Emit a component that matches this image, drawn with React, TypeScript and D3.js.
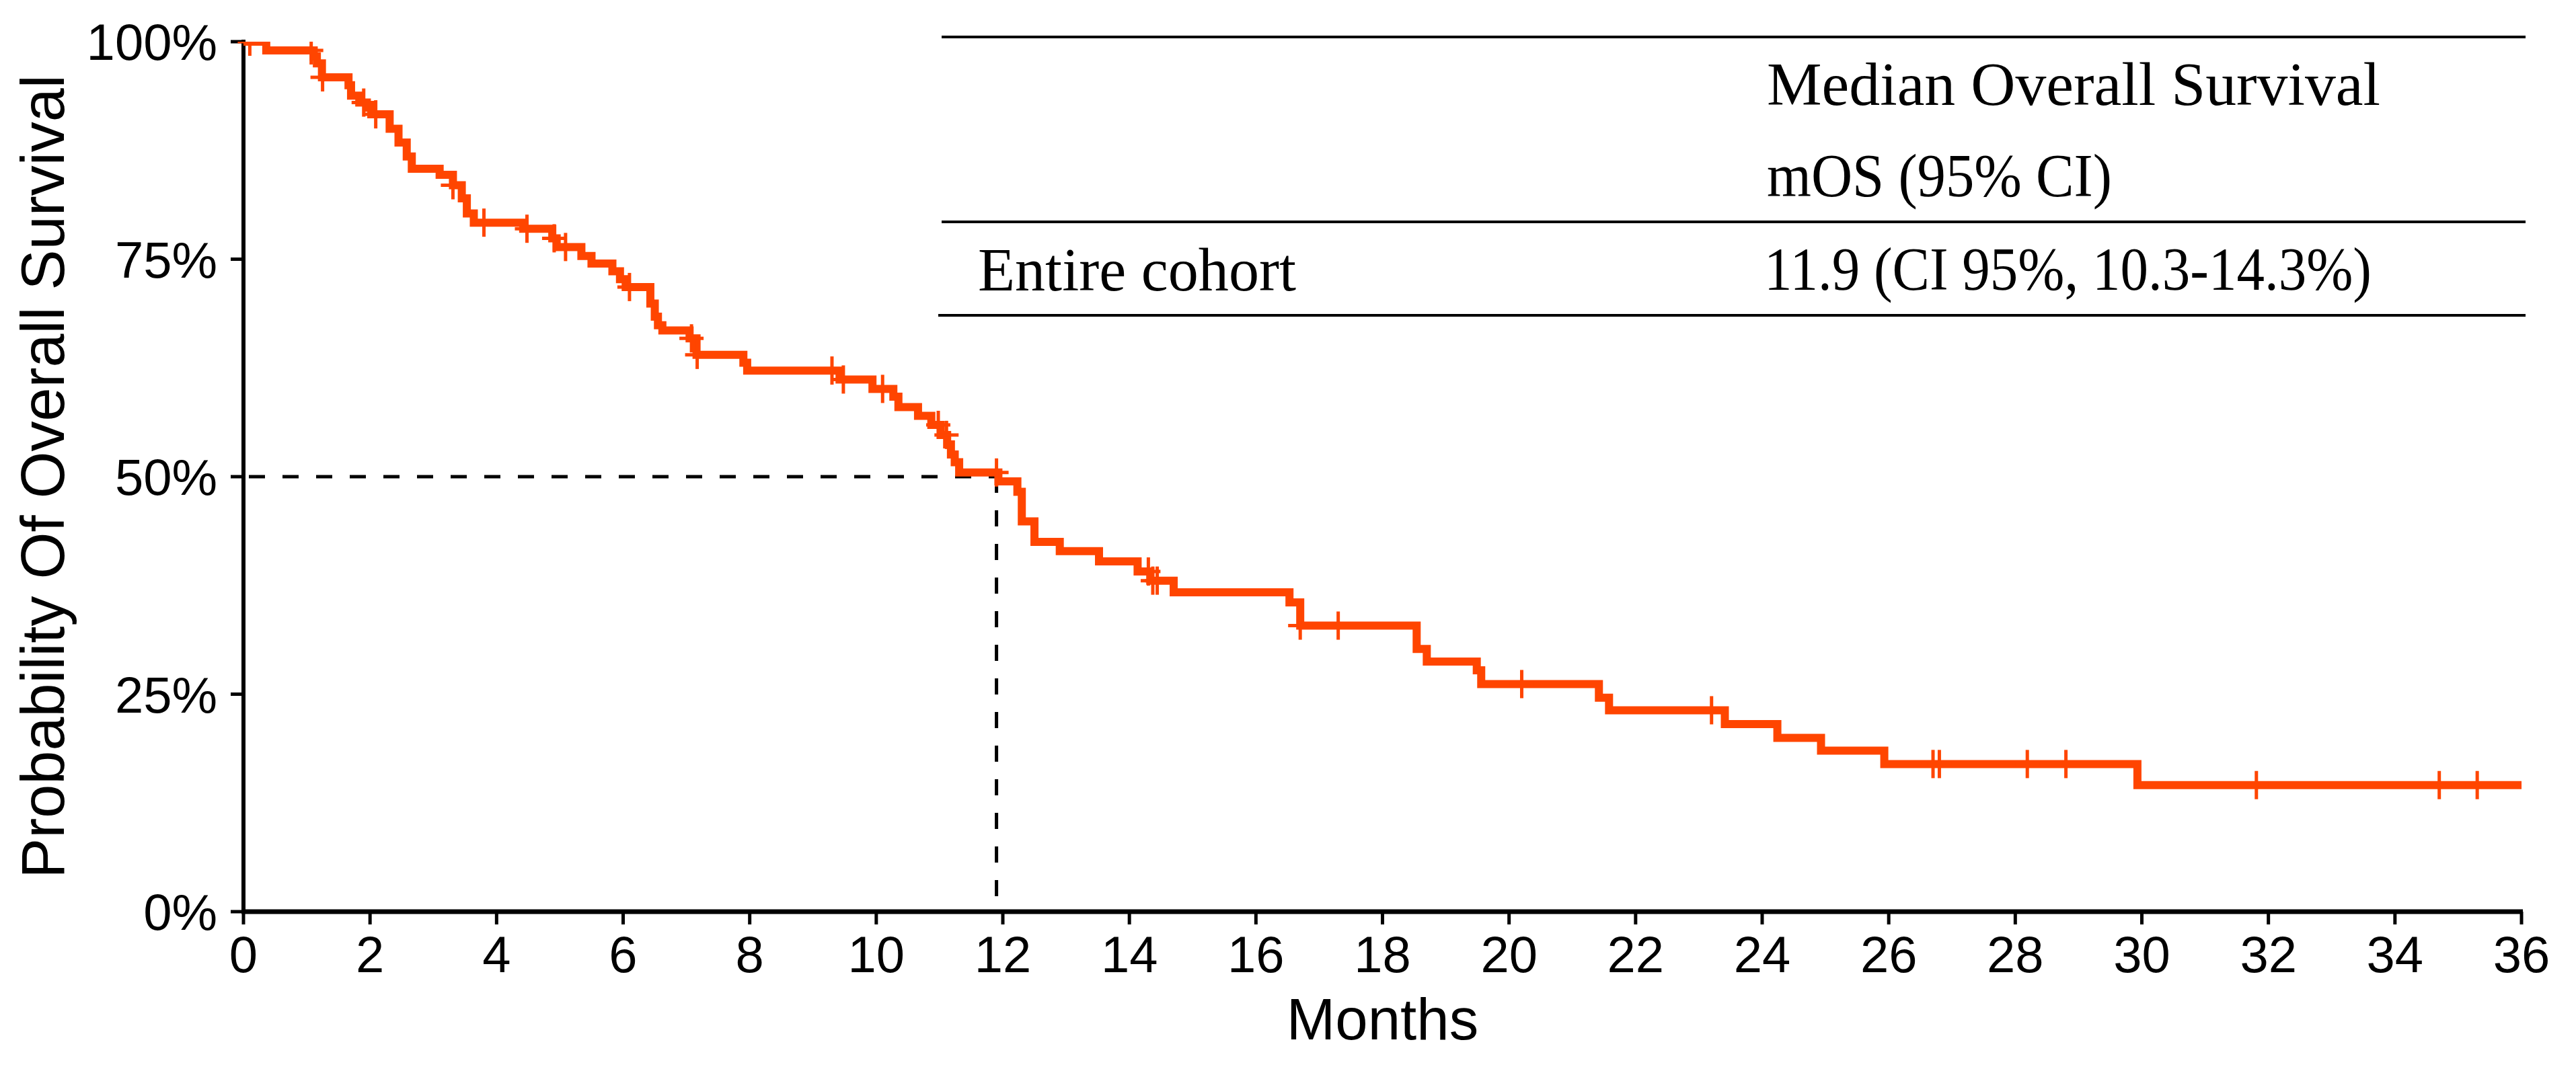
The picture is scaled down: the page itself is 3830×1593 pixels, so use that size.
import * as d3 from "d3";

// Kaplan-Meier steps: time (months) where the curve drops, survival after it
const stepTimes = [
  0, 0.36, 1.11, 1.16, 1.24, 1.66, 1.7, 1.83, 1.95, 2.02, 2.31, 2.45, 2.58, 2.66, 3.1, 3.31, 3.45, 3.53,
  3.64, 4.42, 4.88, 4.95, 5.34, 5.5, 5.83, 5.95, 6.04, 6.43, 6.5, 6.55, 6.62, 7.05, 7.16, 7.9, 7.96,
  9.42, 9.94, 10.27, 10.35, 10.66, 10.87, 11.02, 11.12, 11.18, 11.24, 11.31, 11.93, 12.23, 12.3, 12.5,
  12.9, 13.52, 14.13, 14.33, 14.7, 16.53, 16.7, 18.54, 18.7, 19.49, 19.56, 21.42, 21.58, 23.41, 24.24,
  24.93, 25.93, 29.93,
];
const stepSurv = [
  1, 0.99, 0.983, 0.975, 0.959, 0.95, 0.938, 0.93, 0.924, 0.9165, 0.9, 0.884, 0.868, 0.854, 0.847, 0.835,
  0.82, 0.8025, 0.792, 0.785, 0.774, 0.764, 0.7537, 0.745, 0.736, 0.727, 0.718, 0.699, 0.684, 0.674,
  0.668, 0.659, 0.64, 0.631, 0.622, 0.6117, 0.6009, 0.592, 0.58, 0.57, 0.5595, 0.548, 0.537, 0.5255,
  0.5166, 0.5048, 0.4946, 0.4826, 0.4486, 0.425, 0.4145, 0.4026, 0.391, 0.3805, 0.367, 0.3555, 0.3288,
  0.302, 0.2875, 0.2775, 0.2616, 0.246, 0.2315, 0.2156, 0.1998, 0.185, 0.1697, 0.1455,
];
const censorTimes = [
  0.1, 1.07, 1.25, 1.9, 2.09, 3.31, 3.8, 4.48, 4.91, 5.09, 6.1, 7.08, 7.17, 9.3, 9.48, 10.1, 10.98,
  11.11, 11.9, 14.3, 14.37, 14.44, 16.7, 17.3, 20.2, 23.2, 26.7, 26.8, 28.19, 28.8, 31.81, 34.7, 35.3,
];
const followUpEnd = 36;
const medianMonths = 11.9;

const xTickValues = [0, 2, 4, 6, 8, 10, 12, 14, 16, 18, 20, 22, 24, 26, 28, 30, 32, 34, 36];
const yTickValues = [0, 0.25, 0.5, 0.75, 1];
const yTickLabels = ["0%", "25%", "50%", "75%", "100%"];
const xLabel = "Months";
const yLabel = "Probability Of Overall Survival";
const tableHeader = ["Median Overall Survival", "mOS (95% CI)"];
const tableRow = ["Entire cohort", "11.9 (CI 95%, 10.3-14.3%)"];

const W = 3830;
const H = 1593;
const left = 362;
const right = 3749;
const top = 62;
const bottom = 1356;
const orange = "#ff4500";
const sans = "'Liberation Sans', Arial, sans-serif";
const serif = "'Liberation Serif', 'Times New Roman', serif";

export default function App() {
  const x = d3.scaleLinear().domain([0, 36]).range([left, right]);
  const y = d3.scaleLinear().domain([0, 1]).range([bottom, top]);

  const pts: [number, number][] = stepTimes.map((t, i) => [t, stepSurv[i]]);
  pts.push([followUpEnd, stepSurv[stepSurv.length - 1]]);
  const line = d3
    .line<[number, number]>()
    .x((d) => x(d[0]))
    .y((d) => y(d[1]))
    .curve(d3.curveStepAfter);

  const survAt = (t: number) => {
    const i = d3.bisectRight(stepTimes, t) - 1;
    return stepSurv[Math.max(0, i)];
  };

  const arm = 18;
  const tickLen = 19;

  return (
    <div style={{ position: "absolute", left: 0, top: 0 }}>
      <svg width={W} height={H} viewBox={`0 0 ${W} ${H}`} style={{ display: "block", background: "#fff" }}>
        <defs>
          <clipPath id="plot">
            <rect x={left - 40} y={top} width={right - left + 80} height={bottom - top + 60} />
          </clipPath>
        </defs>

        {/* table */}
        <g fontFamily={serif} fontSize={90} fill="#000">
          <line x1={1400} x2={3755} y1={55} y2={55} stroke="#000" strokeWidth={4} />
          <line x1={1400} x2={3755} y1={330} y2={330} stroke="#000" strokeWidth={4} />
          <line x1={1395} x2={3755} y1={469} y2={469} stroke="#000" strokeWidth={4} />
          <text x={2627} y={156} textLength={912} lengthAdjust="spacingAndGlyphs">
            {tableHeader[0]}
          </text>
          <text x={2627} y={292} textLength={513} lengthAdjust="spacingAndGlyphs">
            {tableHeader[1]}
          </text>
          <text x={1454} y={432} textLength={473} lengthAdjust="spacingAndGlyphs">
            {tableRow[0]}
          </text>
          <text x={2623} y={431} textLength={903} lengthAdjust="spacingAndGlyphs">
            {tableRow[1]}
          </text>
        </g>

        {/* median guide */}
        <g stroke="#000" strokeWidth={5} strokeDasharray="24 26" fill="none">
          <line x1={x(0) + 8} x2={x(medianMonths)} y1={y(0.5)} y2={y(0.5)} />
          <line x1={x(medianMonths)} x2={x(medianMonths)} y1={y(0.5)} y2={y(0)} />
        </g>

        {/* axes */}
        <g stroke="#000" fill="none">
          <line x1={left} x2={left} y1={top - 3} y2={bottom} strokeWidth={6} />
          <line x1={left - 3} x2={right + 2} y1={bottom} y2={bottom} strokeWidth={7} />
          {yTickValues.map((v) => (
            <line key={"yt" + v} x1={left - tickLen} x2={left} y1={y(v)} y2={y(v)} strokeWidth={5} />
          ))}
          {xTickValues.map((v) => (
            <line key={"xt" + v} x1={x(v)} x2={x(v)} y1={bottom} y2={bottom + tickLen} strokeWidth={5} />
          ))}
        </g>
        <g fontFamily={sans} fontSize={76} fill="#000">
          {yTickValues.map((v, i) => (
            <text key={"yl" + v} x={323} y={y(v)} dy="0.36em" textAnchor="end">
              {yTickLabels[i]}
            </text>
          ))}
          {xTickValues.map((v) => (
            <text key={"xl" + v} x={x(v)} y={1446} textAnchor="middle">
              {v}
            </text>
          ))}
          <text x={(left + right) / 2} y={1546} fontSize={87} textAnchor="middle">
            {xLabel}
          </text>
          <text transform={`translate(95,${(top + bottom) / 2}) rotate(-90)`} fontSize={90} textAnchor="middle">
            {yLabel}
          </text>
        </g>

        {/* survival curve */}
        <g clipPath="url(#plot)">
          <path d={line(pts) ?? ""} fill="none" stroke={orange} strokeWidth={12} strokeLinejoin="miter" />
          <g stroke={orange} strokeWidth={5}>
            {censorTimes.map((t, i) => {
              const cx = x(t);
              const cy = y(survAt(t));
              return (
                <g key={"c" + i}>
                  <line x1={cx} x2={cx} y1={cy - 21} y2={cy + 21} />
                  <line x1={cx - arm} x2={cx + arm} y1={cy} y2={cy} />
                </g>
              );
            })}
          </g>
        </g>
      </svg>
    </div>
  );
}
